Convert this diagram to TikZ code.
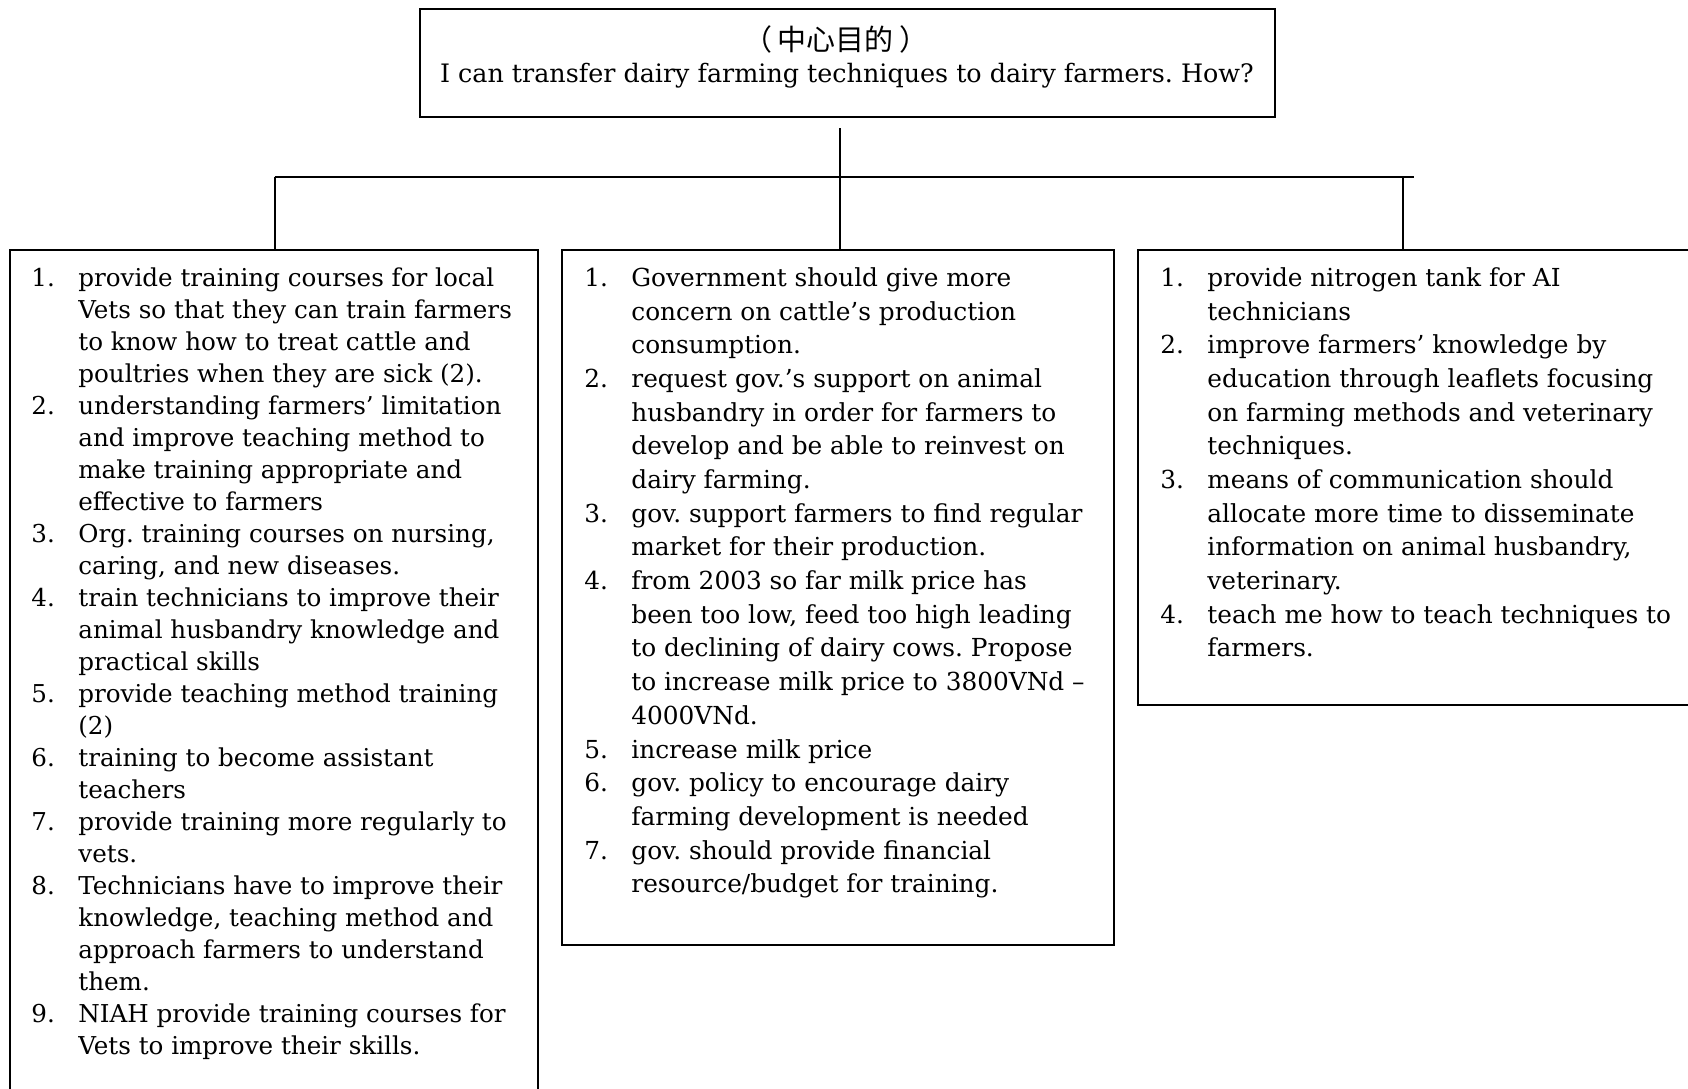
\documentclass[tikz,border=0pt]{standalone}
\usepackage{fontspec}
\setmainfont{DejaVu Serif}
\newfontfamily\cjkfont{Noto Sans CJK SC}
\usepackage{array}
\usetikzlibrary{fit,calc}
\frenchspacing
% numbered list laid out line by line: number column, then text column
\newenvironment{steplist}{\begin{tabular}[t]{@{}p{23.5pt}@{}l@{}}}{\end{tabular}}
\begin{document}
\begin{tikzpicture}[x=0.5pt,y=-0.5pt,
  frame/.style={draw=black,line width=1pt,inner sep=0pt},
  link/.style={draw=black,line width=1pt},
  tighttext/.style={anchor=base west,inner sep=0pt,font=\fontsize{12.3}{16}\selectfont},
  loosetext/.style={anchor=base west,inner sep=0pt,font=\fontsize{12.4}{16.84}\selectfont}]
\useasboundingbox (0,0) rectangle (1688,1088);
\clip (0,0) rectangle (1688,1088);

% central goal
\node[frame,fit={(420,9)(1275,117)}] (goal) {};
\node[anchor=base,inner sep=0pt,font=\cjkfont\fontsize{14.5}{16}\selectfont] (goalzh) at (836,50.5) {（\kern3pt中心目的\kern3pt）};
\node[anchor=base,inner sep=0pt,font=\fontsize{12.7}{16}\selectfont] (goalen) at (847,82.5)
  {I can transfer dairy farming techniques to dairy farmers. How?};

% three answer boxes
\node[frame,fit={(10,250)(538,1110)}] (left) {};
\node[frame,fit={(562,250)(1114,945)}] (mid) {};
\node[frame,fit={(1138,250)(1710,705)}] (right) {};

% tree connectors
\coordinate (stemtop) at (840,128);
\coordinate (hub) at (840,176.5);
\coordinate (busL) at (274.5,176.5);
\coordinate (busR) at (1403,176.5);
\coordinate (busend) at (1413.5,176.5);
\draw[link] (stemtop) -- (hub);
\draw[link] (busL) -- (busend);
\draw[link] (busL) -- (busL |- left.north);
\draw[link] (hub) -- (hub |- mid.north);
\draw[link] (busR) -- (busR |- right.north);

% left list
\node[tighttext] (leftlist) at (31,286.5) {\begin{steplist}
1. & provide training courses for local\\
   & Vets so that they can train farmers\\
   & to know how to treat cattle and\\
   & poultries when they are sick (2).\\
2. & understanding farmers’ limitation\\
   & and improve teaching method to\\
   & make training appropriate and\\
   & effective to farmers\\
3. & Org. training courses on nursing,\\
   & caring, and new diseases.\\
4. & train technicians to improve their\\
   & animal husbandry knowledge and\\
   & practical skills\\
5. & provide teaching method training\\
   & (2)\\
6. & training to become assistant\\
   & teachers\\
7. & provide training more regularly to\\
   & vets.\\
8. & Technicians have to improve their\\
   & knowledge, teaching method and\\
   & approach farmers to understand\\
   & them.\\
9. & NIAH provide training courses for\\
   & Vets to improve their skills.
\end{steplist}};

% middle list
\node[loosetext] (midlist) at (584,286.5) {\begin{steplist}
1. & Government should give more\\
   & concern on cattle’s production\\
   & consumption.\\
2. & request gov.’s support on animal\\
   & husbandry in order for farmers to\\
   & develop and be able to reinvest on\\
   & dairy farming.\\
3. & gov. support farmers to find regular\\
   & market for their production.\\
4. & from 2003 so far milk price has\\
   & been too low, feed too high leading\\
   & to declining of dairy cows. Propose\\
   & to increase milk price to 3800VNd –\\
   & 4000VNd.\\
5. & increase milk price\\
6. & gov. policy to encourage dairy\\
   & farming development is needed\\
7. & gov. should provide financial\\
   & resource/budget for training.
\end{steplist}};

% right list
\node[loosetext] (rightlist) at (1160,286.5) {\begin{steplist}
1. & provide nitrogen tank for AI\\
   & technicians\\
2. & improve farmers’ knowledge by\\
   & education through leaflets focusing\\
   & on farming methods and veterinary\\
   & techniques.\\
3. & means of communication should\\
   & allocate more time to disseminate\\
   & information on animal husbandry,\\
   & veterinary.\\
4. & teach me how to teach techniques to\\
   & farmers.
\end{steplist}};
\end{tikzpicture}
\end{document}
